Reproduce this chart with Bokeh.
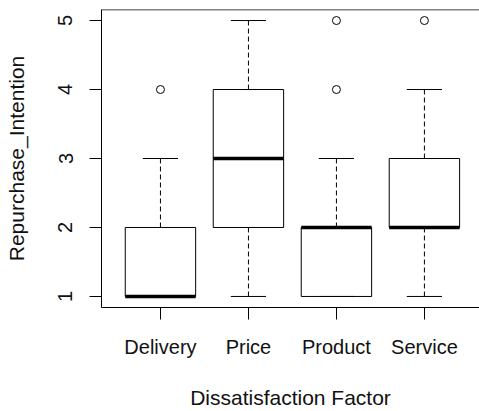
from bokeh.plotting import figure
from bokeh.models import Range1d, FixedTicker, Span
from bokeh.embed import file_html
from bokeh.resources import INLINE

categories = ["Delivery", "Price", "Product", "Service"]
lower_whisker = [1, 1, 1, 1]
q1 = [1, 2, 1, 2]
median = [1, 3, 2, 2]
q3 = [2, 4, 2, 3]
upper_whisker = [3, 5, 3, 4]
outlier_cat = ["Delivery", "Product", "Product", "Service"]
outlier_val = [4, 4, 5, 5]
y_ticks = [1, 2, 3, 4, 5]

xpos = [i + 1 for i in range(len(categories))]
opos = [categories.index(c) + 1 for c in outlier_cat]

FONT = "Liberation Sans"

p = figure(width=479, height=411, output_backend="svg", toolbar_location=None,
           x_range=Range1d(0.33, 4.626), y_range=Range1d(0.84, 5.16),
           min_border_left=101, min_border_top=9, min_border_right=0,
           min_border_bottom=101)
p.outline_line_color = None
p.grid.visible = False
p.background_fill_color = "white"
p.border_fill_color = "white"

bw = 0.4
cw = 0.2
# whiskers
p.segment(x0=xpos, x1=xpos, y0=q3, y1=upper_whisker, line_color="black",
          line_width=1, line_dash="5 3")
p.segment(x0=xpos, x1=xpos, y0=q1, y1=lower_whisker, line_color="black",
          line_width=1, line_dash="5 3")
# caps
p.segment(x0=[x - cw for x in xpos], x1=[x + cw for x in xpos],
          y0=upper_whisker, y1=upper_whisker, line_color="black", line_width=1)
p.segment(x0=[x - cw for x in xpos], x1=[x + cw for x in xpos],
          y0=lower_whisker, y1=lower_whisker, line_color="black", line_width=1)
# boxes
p.quad(left=[x - bw for x in xpos], right=[x + bw for x in xpos],
       bottom=q1, top=q3, fill_color=None, line_color="black", line_width=1)
# medians
p.segment(x0=[x - bw for x in xpos], x1=[x + bw for x in xpos],
          y0=median, y1=median, line_color="black", line_width=3.5,
          line_cap="butt")
# outliers
p.scatter(x=opos, y=outlier_val, size=8, marker="circle", fill_color=None,
          line_color="black", line_width=1)

# top frame edge
p.add_layout(Span(location=5.16, dimension="width", line_color="black",
                  line_width=1.5))

xa = p.xaxis[0]
xa.ticker = FixedTicker(ticks=xpos)
xa.major_label_overrides = {x: c for x, c in zip(xpos, categories)}
xa.axis_label = "Dissatisfaction Factor"

ya = p.yaxis[0]
ya.ticker = FixedTicker(ticks=y_ticks)
ya.axis_label = "Repurchase_Intention"
ya.major_label_orientation = "vertical"

for ax in (xa, ya):
    ax.axis_line_color = "black"
    ax.axis_line_width = 1
    ax.major_tick_line_color = "black"
    ax.major_tick_out = 12
    ax.major_tick_in = 0
    ax.minor_tick_line_color = None
    ax.major_label_text_font = FONT
    ax.major_label_text_font_size = "20px"
    ax.major_label_text_color = "#111111"
    ax.axis_label_text_font = FONT
    ax.axis_label_text_font_size = "21px"
    ax.axis_label_text_font_style = "normal"
    ax.axis_label_text_color = "#111111"

xa.major_label_standoff = 16
xa.axis_label_standoff = 25
ya.major_label_standoff = 17
ya.axis_label_standoff = 28

open("out.html", "w").write(file_html(p, INLINE))
